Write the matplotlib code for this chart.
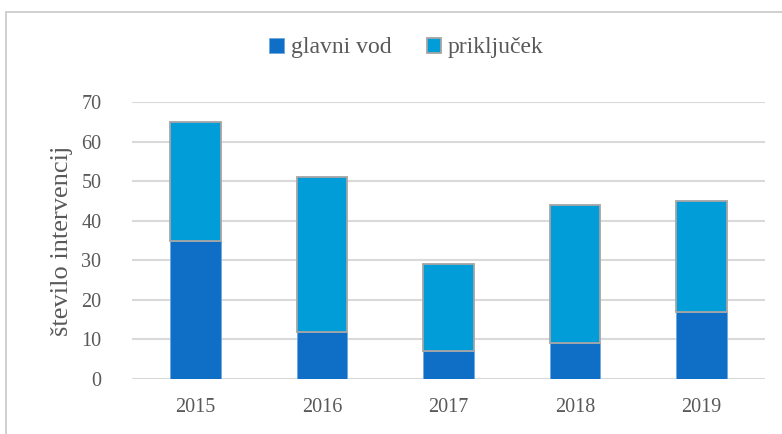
import matplotlib.pyplot as plt
from matplotlib.patches import Rectangle

years = ['2015', '2016', '2017', '2018', '2019']
glavni_vod = [35, 12, 7, 9, 17]
prikljucek = [30, 39, 22, 35, 28]
yticks = [0, 10, 20, 30, 40, 50, 60, 70]

c_glavni = '#0F6FC6'
c_prik = '#009DD9'
c_text = '#595959'
c_grid = '#D9D9D9'

plt.rcParams['font.family'] = ['Liberation Serif', 'DejaVu Serif']

fig = plt.figure(figsize=(7.82, 4.34), dpi=100)
ax = fig.add_axes([132 / 782, 1 - 379 / 434, (765 - 132) / 782, (379 - 102) / 434])

# outer chart frame (runs off right and bottom edges)
fig.patches.append(Rectangle((6 / 782, -0.1), 1.2, 1.1 - 12 / 434, transform=fig.transFigure,
                             fill=False, edgecolor='#C8C8C8', linewidth=1.2))

x = range(len(years))
ax.bar(x, glavni_vod, width=0.4, color=c_glavni, edgecolor='#6FA8DC', linewidth=0.6,
       label='glavni vod', zorder=3)
ax.bar(x, prikljucek, width=0.4, bottom=glavni_vod, color=c_prik, edgecolor='#A5A5A5',
       linewidth=1.3, label='priključek', zorder=3)

ax.set_xlim(-0.5, len(years) - 0.5)
ax.set_ylim(0, 70)
ax.set_yticks(yticks)
ax.set_xticks(list(x))
ax.set_xticklabels(years)
ax.yaxis.grid(True, color=c_grid, linewidth=1.5, zorder=0)
ax.set_axisbelow(True)
for s in ax.spines.values():
    s.set_visible(False)
ax.tick_params(axis='both', length=0, labelsize=14.5, colors=c_text)
ax.tick_params(axis='y', pad=22)
ax.tick_params(axis='x', pad=14)
ax.set_ylabel('število intervencij', fontsize=19, color=c_text, labelpad=6)

leg = fig.legend(loc='center', bbox_to_anchor=(0.52, 1 - 48 / 434), ncol=2, frameon=False,
                 fontsize=17, handlelength=0.6, handleheight=0.6, handletextpad=0.3,
                 columnspacing=1.5)
for t in leg.get_texts():
    t.set_color(c_text)

fig.savefig('out.png', dpi=100, facecolor='white')
